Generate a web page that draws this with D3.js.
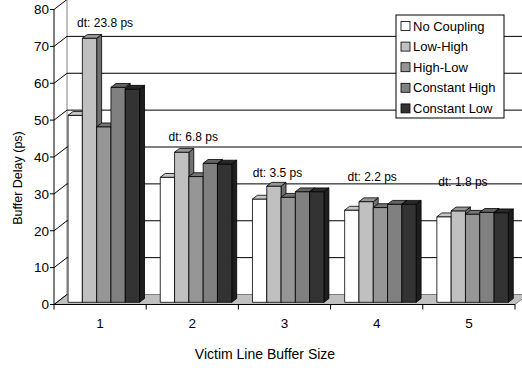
<!DOCTYPE html>
<html>
<head>
<meta charset="utf-8">
<script src="https://cdn.jsdelivr.net/npm/d3@7"></script>
<style>
  body{margin:0;background:#fff}
  text{font-family:"Liberation Sans",Arial,sans-serif;fill:#000}
</style>
</head>
<body>
<svg id="chart" width="522" height="368"></svg>
<script>
const categories = ['1', '2', '3', '4', '5']
const seriesNames = ['No Coupling', 'Low-High', 'High-Low', 'Constant High', 'Constant Low']
const noCoupling   = [50.7, 33.9, 28.0, 25.0, 23.2]
const lowHigh      = [71.6, 40.7, 31.5, 27.3, 24.8]
const highLow      = [47.6, 34.1, 28.5, 25.7, 23.9]
const constantHigh = [58.3, 37.7, 30.0, 26.6, 24.4]
const constantLow  = [57.8, 37.5, 30.0, 26.6, 24.3]
const yTicks = [0, 10, 20, 30, 40, 50, 60, 70, 80]
const dtLabels = ['dt: 23.8 ps', 'dt: 6.8 ps', 'dt: 3.5 ps', 'dt: 2.2 ps', 'dt: 1.8 ps']
const dtLevel = [76.5, 45.4, 35.6, 34.7, 33.4]   // value level each note sits at
const seriesColors = ['#ffffff', '#c0c0c0', '#969696', '#808080', '#333333']

const values = [noCoupling, lowHigh, highLow, constantHigh, constantLow]

const svg = d3.select('#chart')
const left = 54, right = 515
const y = d3.scaleLinear().domain([0, 80]).range([304.5, 9.5])
const x = d3.scaleBand().domain(categories).range([left, right])
const xSub = d3.scaleBand().domain(seriesNames).range([0, 71.5])
const groupPad = 11.2

// oblique depth: t=0 front of floor, t=1 back wall
const depthX = 13, depthY = -10
const proj = (px, v, t) => [px + depthX * t, y(v) + depthY * t]
const poly = pts => pts.map(p => p.join(',')).join(' ')
const t0 = 0.22, t1 = 0.6

// back wall
svg.append('polygon')
  .attr('points', poly([proj(left, 0, 1), proj(right, 0, 1), proj(right, 80, 1), proj(left, 80, 1)]))
  .attr('fill', '#fff')
  .attr('stroke', '#808080')

// gridlines on back wall and side wall
const grid = svg.append('g')
grid.selectAll('line.back')
  .data(yTicks.filter(d => d > 0 && d < 80))
  .enter()
  .append('line')
  .attr('class', 'back')
  .attr('x1', d => proj(left, d, 1)[0])
  .attr('x2', d => proj(right, d, 1)[0])
  .attr('y1', d => proj(left, d, 1)[1])
  .attr('y2', d => proj(left, d, 1)[1])
  .attr('stroke', '#000')
grid.selectAll('line.side')
  .data(yTicks.filter(d => d > 0))
  .enter()
  .append('line')
  .attr('class', 'side')
  .attr('x1', d => proj(left, d, 0)[0])
  .attr('y1', d => proj(left, d, 0)[1])
  .attr('x2', d => proj(left, d, 1)[0])
  .attr('y2', d => proj(left, d, 1)[1])
  .attr('stroke', '#000')

// floor
svg.append('polygon')
  .attr('points', poly([proj(left, 0, 0), proj(right, 0, 0), proj(right, 0, 1), proj(left, 0, 1)]))
  .attr('fill', '#c0c0c0')
  .attr('stroke', '#808080')
svg.append('line')
  .attr('x1', proj(left, 0, 0)[0]).attr('y1', proj(left, 0, 0)[1])
  .attr('x2', proj(left, 0, 1)[0]).attr('y2', proj(left, 0, 1)[1])
  .attr('stroke', '#000')

// bars, painted left to right so nearer faces cover farther ones
const bars = []
categories.forEach((c, i) => {
  seriesNames.forEach((s, j) => {
    bars.push({cat: c, series: s, value: values[j][i], color: seriesColors[j]})
  })
})
const barG = svg.append('g')
  .selectAll('g')
  .data(bars)
  .enter()
  .append('g')
barG.each(function (d) {
  const g = d3.select(this)
  const x0 = x(d.cat) + groupPad + xSub(d.series)
  const x1 = x0 + xSub.bandwidth()
  const base = d3.color(d.color)
  g.append('polygon')
    .attr('points', poly([proj(x1, 0, t0), proj(x1, 0, t1), proj(x1, d.value, t1), proj(x1, d.value, t0)]))
    .attr('fill', base.darker(1.5))
  g.append('polygon')
    .attr('points', poly([proj(x0, 0, t0), proj(x1, 0, t0), proj(x1, d.value, t0), proj(x0, d.value, t0)]))
    .attr('fill', base)
  g.append('polygon')
    .attr('points', poly([proj(x0, d.value, t0), proj(x1, d.value, t0), proj(x1, d.value, t1), proj(x0, d.value, t1)]))
    .attr('fill', base.darker(0.7))
  g.selectAll('polygon')
    .attr('stroke', '#000')
    .attr('stroke-width', 0.8)
    .attr('stroke-linejoin', 'round')
})

// y axis
const yAxis = svg.append('g')
yAxis.append('line')
  .attr('x1', left).attr('x2', left)
  .attr('y1', y(0)).attr('y2', y(80))
  .attr('stroke', '#000')
yAxis.selectAll('line.tick')
  .data(yTicks)
  .enter()
  .append('line')
  .attr('class', 'tick')
  .attr('x1', left - 4).attr('x2', left)
  .attr('y1', d => y(d)).attr('y2', d => y(d))
  .attr('stroke', '#000')
yAxis.selectAll('text')
  .data(yTicks)
  .enter()
  .append('text')
  .attr('x', left - 5)
  .attr('y', d => y(d))
  .attr('dy', '0.36em')
  .attr('text-anchor', 'end')
  .attr('font-size', 13.5)
  .text(d => d)

// x axis
const xAxis = svg.append('g')
xAxis.append('line')
  .attr('x1', left).attr('x2', right)
  .attr('y1', y(0)).attr('y2', y(0))
  .attr('stroke', '#000')
xAxis.selectAll('line.tick')
  .data(categories.map(c => x(c)).concat([right]))
  .enter()
  .append('line')
  .attr('class', 'tick')
  .attr('x1', d => d).attr('x2', d => d)
  .attr('y1', y(0)).attr('y2', y(0) + 5)
  .attr('stroke', '#000')
xAxis.selectAll('text')
  .data(categories)
  .enter()
  .append('text')
  .attr('x', d => x(d) + x.bandwidth() / 2)
  .attr('y', 328)
  .attr('text-anchor', 'middle')
  .attr('font-size', 13.5)
  .text(d => d)

// dt notes
const dtShift = [5, 1, -7, -4.5, -6]
svg.append('g')
  .selectAll('text')
  .data(dtLabels)
  .enter()
  .append('text')
  .attr('x', (d, i) => x(categories[i]) + x.bandwidth() / 2 + dtShift[i])
  .attr('y', (d, i) => y(dtLevel[i]))
  .attr('dy', '0.35em')
  .attr('text-anchor', 'middle')
  .attr('font-size', 12)
  .text(d => d)

// titles
svg.append('text')
  .attr('x', 265)
  .attr('y', 359)
  .attr('text-anchor', 'middle')
  .attr('font-size', 14)
  .text('Victim Line Buffer Size')
svg.append('text')
  .attr('transform', 'translate(17.5,178) rotate(-90)')
  .attr('dy', '0.35em')
  .attr('text-anchor', 'middle')
  .attr('font-size', 12.5)
  .text('Buffer Delay (ps)')

// legend
const legend = svg.append('g').attr('transform', 'translate(396,15)')
legend.append('rect')
  .attr('width', 108).attr('height', 103)
  .attr('fill', '#fff')
  .attr('stroke', '#000')
const item = legend.selectAll('g')
  .data(seriesNames)
  .enter()
  .append('g')
  .attr('transform', (d, i) => 'translate(5,' + (11 + i * 20.6) + ')')
item.append('rect')
  .attr('y', -4.5)
  .attr('width', 9).attr('height', 9)
  .attr('fill', (d, i) => seriesColors[i])
  .attr('stroke', '#000')
  .attr('stroke-width', 0.8)
item.append('text')
  .attr('x', 12)
  .attr('dy', '0.36em')
  .attr('font-size', 13)
  .text(d => d)
</script>
</body>
</html>
